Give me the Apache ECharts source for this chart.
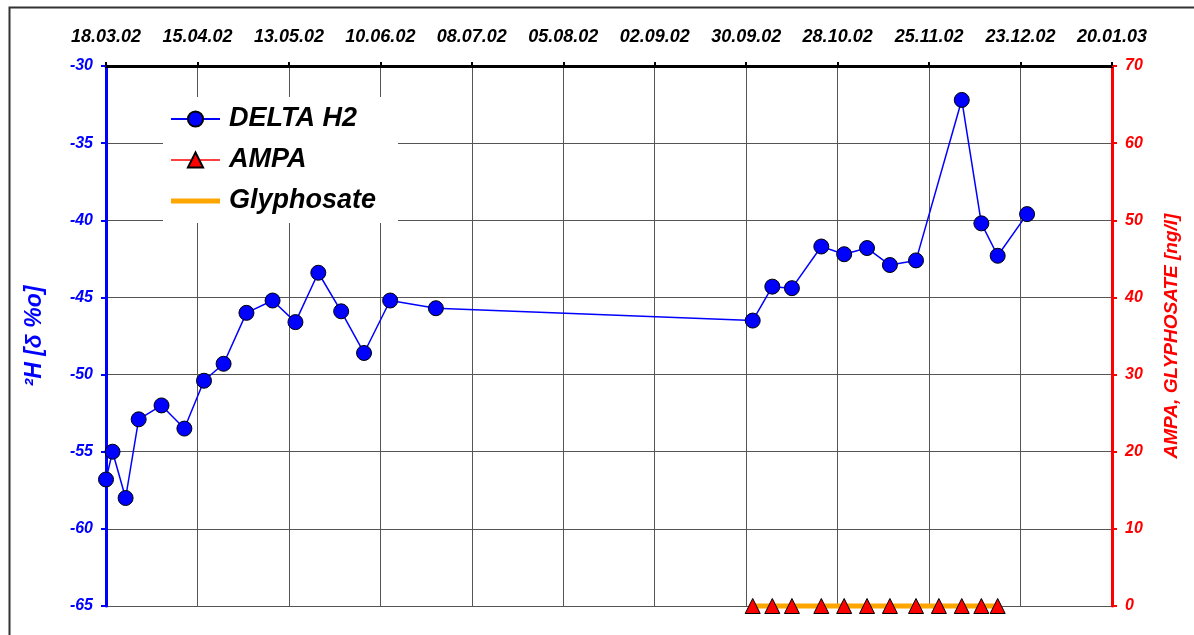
<!DOCTYPE html>
<html>
<head>
<meta charset="utf-8">
<script src="https://cdn.jsdelivr.net/npm/echarts@6/dist/echarts.min.js"></script>
<style>
html,body{margin:0;padding:0;background:#fff;}
#chart{width:1194px;height:635px;}
</style>
</head>
<body>
<div id="chart"></div>
<script>
// ---- data ----
const h2Dates = ['18.03.02','20.03.02','24.03.02','28.03.02','04.04.02','11.04.02','17.04.02','23.04.02','30.04.02','08.05.02','15.05.02','22.05.02','29.05.02','05.06.02','13.06.02','27.06.02','02.10.02','08.10.02','14.10.02','23.10.02','30.10.02','06.11.02','13.11.02','21.11.02','05.12.02','11.12.02','16.12.02','25.12.02'];
const h2Values = [-56.8,-55.0,-58.0,-52.9,-52.0,-53.5,-50.4,-49.3,-46.0,-45.2,-46.6,-43.4,-45.9,-48.6,-45.2,-45.7,-46.5,-44.3,-44.4,-41.7,-42.2,-41.8,-42.9,-42.6,-32.2,-40.2,-42.3,-39.6];
const ampaDates = ['02.10.02','08.10.02','14.10.02','23.10.02','30.10.02','06.11.02','13.11.02','21.11.02','28.11.02','05.12.02','11.12.02','16.12.02'];
const ampaValues = [0,0,0,0,0,0,0,0,0,0,0,0];
const glyDates = ['02.10.02','08.10.02','14.10.02','23.10.02','30.10.02','06.11.02','13.11.02','21.11.02','28.11.02','05.12.02','11.12.02','16.12.02'];
const glyValues = [0,0,0,0,0,0,0,0,0,0,0,0];
const seriesNames = ['DELTA H2','AMPA','Glyphosate'];
const xStart = '18.03.02';   // first tick
const xTickDays = 28;
const xTickCount = 11;

// ---- helpers ----
const DAY = 86400000;
function parseD(s){ const p = s.split('.'); return Date.UTC(2000 + +p[2], +p[1]-1, +p[0]); }
const base = parseD(xStart);
function toDay(s){ return Math.round((parseD(s) - base) / DAY); }
function fmt(day){
  const d = new Date(base + day*DAY);
  const dd = String(d.getUTCDate()).padStart(2,'0');
  const mm = String(d.getUTCMonth()+1).padStart(2,'0');
  const yy = String(d.getUTCFullYear()%100).padStart(2,'0');
  return dd+'.'+mm+'.'+yy;
}
const pairs = (ds, vs) => ds.map((d,i)=>[toDay(d), vs[i]]);

const FONT = '"Liberation Sans", Arial, sans-serif';
const chart = echarts.init(document.getElementById('chart'), null, {renderer:'canvas'});
chart.setOption({
  animation:false,
  backgroundColor:'#fff',
  textStyle:{fontFamily:FONT},
  graphic:[{type:'rect', left:7, top:5, shape:{width:1300, height:700},
    style:{fill:'none', stroke:'#333', lineWidth:2}, silent:true}],
  grid:{left:106, right:82, top:66, bottom:29},
  legend:{
    orient:'vertical', left:163, top:97,
    data:[
      {name:seriesNames[0]},
      {name:seriesNames[1], lineStyle:{color:'#ff0000', width:1.5}},
      {name:seriesNames[2], icon:'path://M0,0 L50,0 L50,5 L0,5 Z'}
    ],
    backgroundColor:'#fff',
    padding:[8,22,8,7],
    itemWidth:49, itemHeight:19, itemGap:13,
    textStyle:{fontFamily:FONT, fontSize:27, fontWeight:'bold', fontStyle:'italic', color:'#000', lineHeight:28, padding:[0,0,0,4]}
  },
  xAxis:{
    type:'value', position:'top', min:0, max:xTickDays*xTickCount, interval:xTickDays,
    axisLine:{onZero:false, lineStyle:{color:'#000', width:3}},
    axisTick:{show:true, length:4, lineStyle:{color:'#000', width:2}},
    axisLabel:{formatter:fmt, margin:20, color:'#000', fontFamily:FONT, fontSize:18, fontWeight:'bold', fontStyle:'italic'},
    splitLine:{show:true, lineStyle:{color:'#555', width:1}}
  },
  yAxis:[{
    type:'value', min:-65, max:-30, interval:5, position:'left',
    name:'²H [δ %o]', nameLocation:'middle', nameRotate:90, nameGap:60,
    nameTextStyle:{color:'#0000ff', fontFamily:FONT, fontSize:23, fontWeight:'bold', fontStyle:'italic'},
    axisLine:{show:true, lineStyle:{color:'#0000ff', width:3}},
    axisTick:{show:true, length:5, lineStyle:{color:'#0000ff', width:2}},
    axisLabel:{color:'#0000ff', margin:13, fontFamily:FONT, fontSize:16, fontWeight:'bold', fontStyle:'italic'},
    splitLine:{show:true, lineStyle:{color:'#555', width:1}}
  },{
    type:'value', min:0, max:70, interval:10, position:'right',
    name:'AMPA, GLYPHOSATE [ng/l]', nameLocation:'middle', nameRotate:90, nameGap:50,
    nameTextStyle:{color:'#ff0000', fontFamily:FONT, fontSize:19, fontWeight:'bold', fontStyle:'italic'},
    axisLine:{show:true, lineStyle:{color:'#ff0000', width:3}},
    axisTick:{show:true, length:5, lineStyle:{color:'#ff0000', width:2}},
    axisLabel:{color:'#ff0000', margin:13, fontFamily:FONT, fontSize:16, fontWeight:'bold', fontStyle:'italic'},
    splitLine:{show:false}
  }],
  series:[{
    name:seriesNames[0], type:'line', yAxisIndex:0, clip:false, z:4,
    data:pairs(h2Dates,h2Values),
    symbol:'circle', symbolSize:15,
    itemStyle:{color:'#0000ff', borderColor:'#000', borderWidth:1},
    lineStyle:{color:'#0000ff', width:1.5}
  },{
    name:seriesNames[1], type:'line', yAxisIndex:1, clip:false, z:3,
    data:pairs(ampaDates,ampaValues),
    symbol:'triangle', symbolSize:[15,15],
    itemStyle:{color:'#ff0000', borderColor:'#000', borderWidth:1},
    lineStyle:{color:'#ffa500', width:1}
  },{
    name:seriesNames[2], type:'line', yAxisIndex:1, clip:false, z:2,
    data:pairs(glyDates,glyValues),
    symbol:'none', showSymbol:false,
    itemStyle:{color:'#ffa500'},
    lineStyle:{color:'#ffa500', width:5}
  }]
});
</script>
</body>
</html>
